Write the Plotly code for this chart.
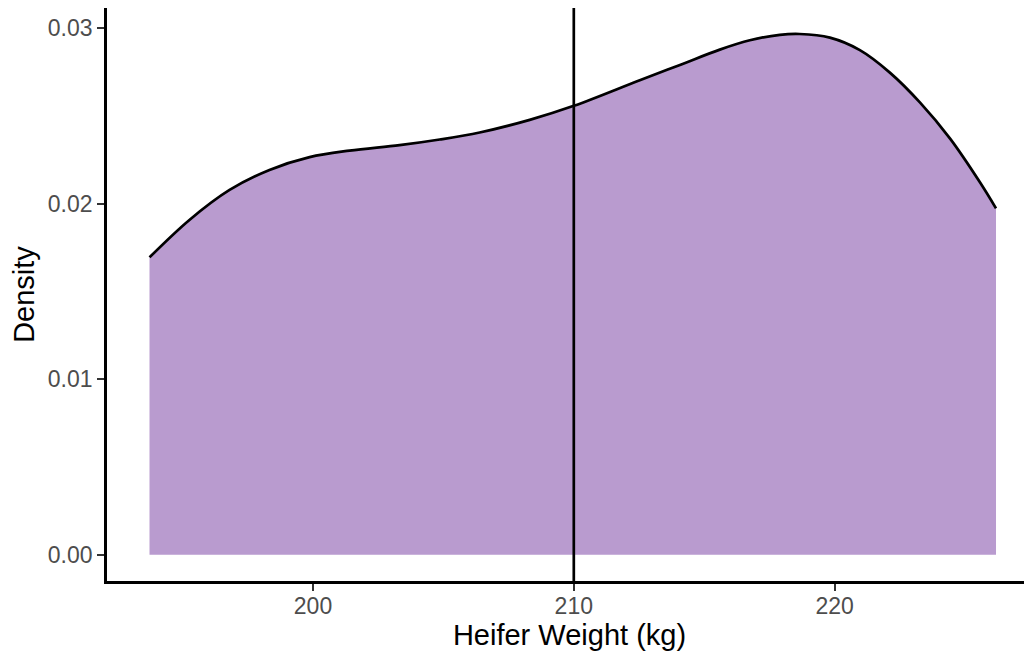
import plotly.graph_objects as go

# Density curve of heifer weights
weight_kg = [193.73, 195.26, 196.80, 198.33, 199.87, 201.40, 203.32, 204.86, 206.39,
             208.31, 210.00, 212.53, 214.07, 215.60, 216.75, 217.90, 218.66, 219.82,
             220.97, 222.12, 223.28, 224.43, 225.58, 226.19]
density = [0.01694, 0.01907, 0.02078, 0.02192, 0.02265, 0.02302, 0.02333, 0.02365, 0.02405,
           0.02477, 0.02557, 0.02703, 0.02790, 0.02877, 0.02930, 0.02961, 0.02966, 0.02945,
           0.02874, 0.02746, 0.02575, 0.02370, 0.02120, 0.01973]
reference_weight = 210
x_ticks = [200, 210, 220]
y_ticks = [0.00, 0.01, 0.02, 0.03]

fill_color = "rgb(185,155,207)"
font_family = "Liberation Sans, Arial, sans-serif"

fig = go.Figure()
fig.add_trace(go.Scatter(x=weight_kg, y=density, mode="lines", fill="tozeroy",
                         fillcolor=fill_color, line=dict(width=0, color=fill_color, shape="spline"),
                         hoverinfo="skip", showlegend=False))
fig.add_trace(go.Scatter(x=weight_kg, y=density, mode="lines",
                         line=dict(width=2.7, color="black", shape="spline"),
                         showlegend=False))
fig.add_shape(type="line", x0=reference_weight, x1=reference_weight, xref="x",
              y0=0, y1=1, yref="y domain", line=dict(color="black", width=2.7))

fig.update_layout(
    width=1024, height=645,
    margin=dict(l=99, r=0, t=0, b=72),
    plot_bgcolor="white", paper_bgcolor="white",
    font=dict(family=font_family),
    xaxis=dict(range=[192.10, 227.57], tickvals=x_ticks, ticks="outside", ticklen=7,
               tickwidth=2.4, tickcolor="#333333", showline=True, linecolor="black",
               linewidth=2.6, showgrid=False, zeroline=False, ticklabelstandoff=-4,
               tickfont=dict(size=23, color="#4D4D4D"),
               title=dict(text="Heifer Weight (kg)", font=dict(size=29, color="black"), standoff=4)),
    yaxis=dict(range=[-0.001494, 0.03114], tickvals=y_ticks, tickformat=".2f", ticks="outside",
               ticklen=7, tickwidth=2.4, tickcolor="#333333", showline=True, linecolor="black",
               linewidth=2.6, showgrid=False, zeroline=False,
               tickfont=dict(size=23, color="#4D4D4D"),
               title=dict(text="Density", font=dict(size=29, color="black"), standoff=8)),
)

fig.write_html("out.html")
